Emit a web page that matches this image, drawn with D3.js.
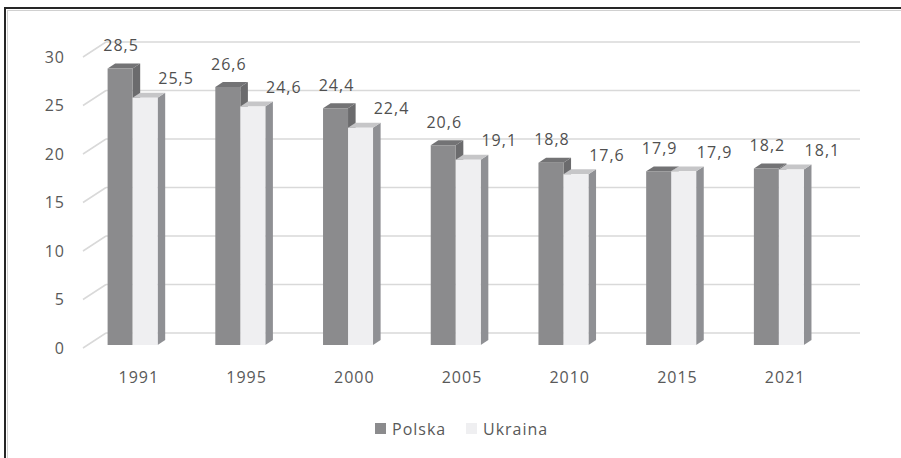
<!DOCTYPE html>
<html>
<head>
<meta charset="utf-8">
<script src="https://cdn.jsdelivr.net/npm/d3@7"></script>
<style>
  body { margin: 0; background: #fff; }
  text { font-family: "Open Sans", sans-serif; font-size: 16px; letter-spacing: 1px; }
</style>
</head>
<body>
<div id="chart"></div>
<script>
// Dane
var years = ["1991", "1995", "2000", "2005", "2010", "2015", "2021"];
var polska = [28.5, 26.6, 24.4, 20.6, 18.8, 17.9, 18.2];
var ukraina = [25.5, 24.6, 22.4, 19.1, 17.6, 17.9, 18.1];
var yTicks = [0, 5, 10, 15, 20, 25, 30];
var seriesNames = ["Polska", "Ukraina"];

var width = 901, height = 458;

// kolory: front / bok / góra
var colors = [
  {front: "#8b8b8d", side: "#6b6b6d", top: "#737375"},
  {front: "#efeff1", side: "#8f9094", top: "#c6c6c8"}
];

var svg = d3.select("#chart").append("svg")
  .attr("width", width)
  .attr("height", height);

// ramka (widoczna tylko lewa i górna krawędź)
svg.append("rect")
  .attr("x", 5).attr("y", 8)
  .attr("width", 940).attr("height", 500)
  .attr("fill", "none")
  .attr("stroke", "#262626")
  .attr("stroke-width", 2);
svg.append("rect")
  .attr("x", 7.5).attr("y", 10.5)
  .attr("width", 940).attr("height", 500)
  .attr("fill", "none")
  .attr("stroke", "#d0d0d0")
  .attr("stroke-width", 1);

// skale (płaszczyzna przednia podłogi)
var x = d3.scaleBand().domain(years).range([83, 837]);
var y = d3.scaleLinear().domain([0, 30]).range([348, 57]);

// rzut ukośny: głębokość 0..1
var depthDx = 23, depthDy = -15;
function proj(xf, v, d) {
  return [xf + d * depthDx, y(v) + d * depthDy];
}

// siatka na tylnej ścianie
svg.selectAll("line.grid")
  .data(yTicks)
  .enter().append("line")
  .attr("class", "grid")
  .attr("x1", function(d) { return proj(83, d, 1)[0]; })
  .attr("y1", function(d) { return proj(83, d, 1)[1]; })
  .attr("x2", function(d) { return proj(837, d, 1)[0]; })
  .attr("y2", function(d) { return proj(837, d, 1)[1]; })
  .attr("stroke", "#d9d9d9")
  .attr("stroke-width", 1.5);

// siatka na lewej ścianie (ukośne)
svg.selectAll("line.side")
  .data(yTicks)
  .enter().append("line")
  .attr("class", "side")
  .attr("x1", function(d) { return proj(83, d, 0)[0]; })
  .attr("y1", function(d) { return proj(83, d, 0)[1]; })
  .attr("x2", function(d) { return proj(83, d, 1)[0]; })
  .attr("y2", function(d) { return proj(83, d, 1)[1]; })
  .attr("stroke", "#d9d9d9")
  .attr("stroke-width", 1.5);

// etykiety osi Y
svg.selectAll("text.ytick")
  .data(yTicks)
  .enter().append("text")
  .attr("class", "ytick")
  .attr("x", 65)
  .attr("y", function(d) { return y(d); })
  .attr("dy", "0.35em")
  .attr("text-anchor", "end")
  .attr("fill", "#595959")
  .text(function(d) { return d; });

// słupki 3D
var barOff = 20, barW = 25, d0 = 0.2, d1 = 0.53;
var bars = [];
years.forEach(function(yr, i) {
  [polska[i], ukraina[i]].forEach(function(v, s) {
    bars.push({year: yr, s: s, v: v, x0: x(yr) + barOff + s * barW});
  });
});

function poly(pts) {
  return pts.map(function(p) { return p.join(","); }).join(" ");
}

var g = svg.selectAll("g.bar")
  .data(bars)
  .enter().append("g")
  .attr("class", "bar");

g.append("polygon")
  .attr("points", function(d) {
    return poly([proj(d.x0 + barW, 0, d0), proj(d.x0 + barW, 0, d1),
                 proj(d.x0 + barW, d.v, d1), proj(d.x0 + barW, d.v, d0)]);
  })
  .attr("fill", function(d) { return colors[d.s].side; });

g.append("polygon")
  .attr("points", function(d) {
    return poly([proj(d.x0, d.v, d0), proj(d.x0 + barW, d.v, d0),
                 proj(d.x0 + barW, d.v, d1), proj(d.x0, d.v, d1)]);
  })
  .attr("fill", function(d) { return colors[d.s].top; });

g.append("polygon")
  .attr("points", function(d) {
    return poly([proj(d.x0, 0, d0), proj(d.x0 + barW, 0, d0),
                 proj(d.x0 + barW, d.v, d0), proj(d.x0, d.v, d0)]);
  })
  .attr("fill", function(d) { return colors[d.s].front; });

// etykiety danych
svg.selectAll("text.val")
  .data(bars)
  .enter().append("text")
  .attr("class", "val")
  .attr("x", function(d) { return d.x0 + d0 * depthDx + barW / 2 + (d.s === 0 ? 1 : 31); })
  .attr("y", function(d) { return y(d.v) - (d.s === 0 ? 26 : 22); })
  .attr("dy", "0.35em")
  .attr("text-anchor", "middle")
  .attr("fill", "#505050")
  .text(function(d) { return d3.format(".1f")(d.v).replace(".", ","); });

// etykiety kategorii
svg.selectAll("text.cat")
  .data(years)
  .enter().append("text")
  .attr("class", "cat")
  .attr("x", function(d) { return x(d) + x.bandwidth() / 2 + 2; })
  .attr("y", 377)
  .attr("dy", "0.35em")
  .attr("text-anchor", "middle")
  .attr("fill", "#595959")
  .text(function(d) { return d; });

// legenda
var legX = [375, 466];
var leg = svg.selectAll("g.leg")
  .data(seriesNames)
  .enter().append("g")
  .attr("class", "leg")
  .attr("transform", function(d, i) { return "translate(" + legX[i] + ",429)"; });
leg.append("rect")
  .attr("x", 0).attr("y", -6)
  .attr("width", 11).attr("height", 11)
  .attr("fill", function(d, i) { return colors[i].front; });
leg.append("text")
  .attr("x", 17)
  .attr("dy", "0.35em")
  .attr("fill", "#595959")
  .text(function(d) { return d; });
</script>
</body>
</html>
